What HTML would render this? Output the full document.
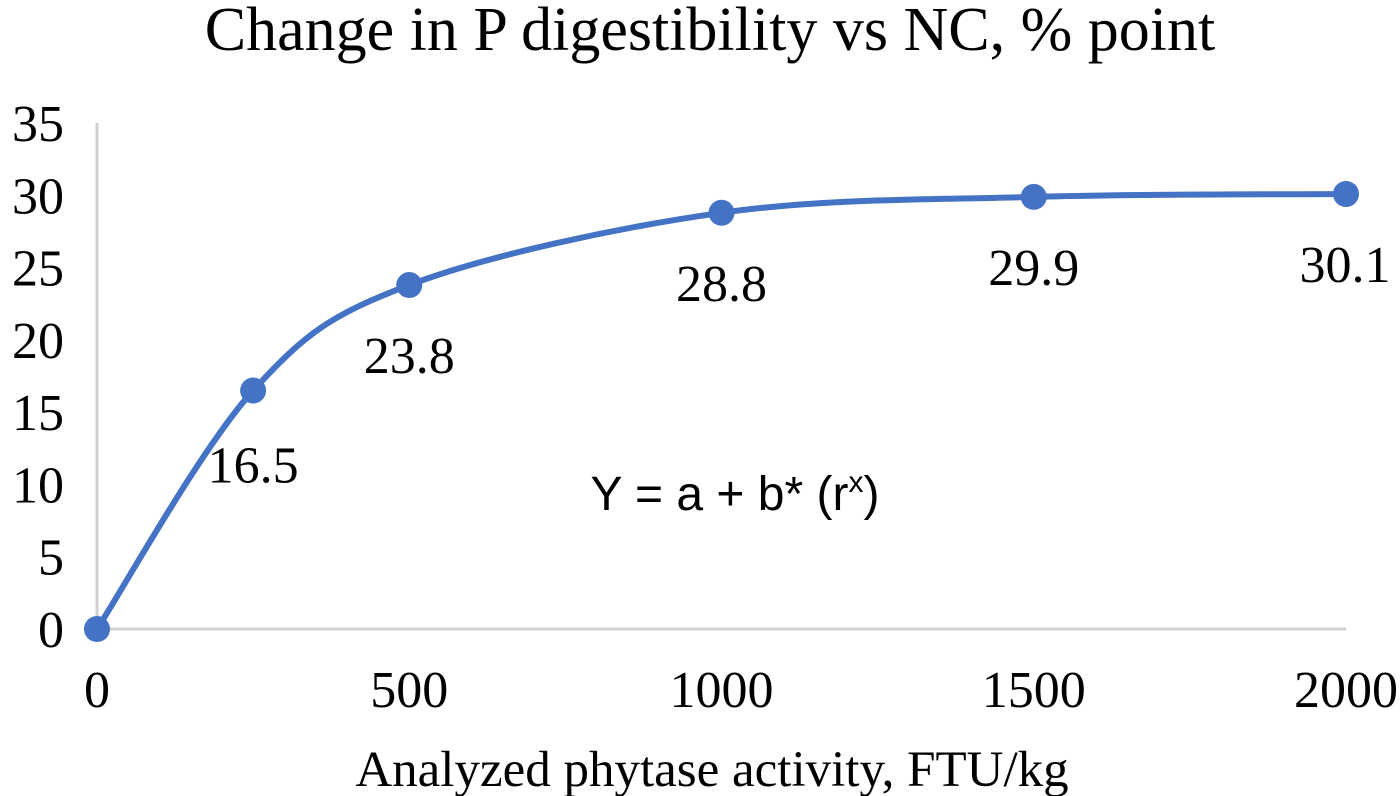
<!DOCTYPE html>
<html><head><meta charset="utf-8"><style>
html,body{margin:0;padding:0;background:#fff;width:1400px;height:796px;overflow:hidden}
svg{display:block}
.t{font-family:"Liberation Serif",serif;fill:#000}
</style></head><body>
<svg id="chart" width="1400" height="796" xmlns="http://www.w3.org/2000/svg">
<text class="t" x="710" y="50" font-size="62" text-anchor="middle">Change in P digestibility vs NC, % point</text>
<text class="t" x="712" y="786" font-size="51" text-anchor="middle">Analyzed phytase activity, FTU/kg</text>
<line x1="97" y1="123" x2="97" y2="629" stroke="#d0d0d0" stroke-width="3"/>
<line x1="97" y1="629" x2="1346" y2="629" stroke="#d0d0d0" stroke-width="3"/>
<text x="735" y="510" font-family="Liberation Sans,sans-serif" font-size="48" text-anchor="middle">Y = a + b* (r<tspan font-size="30" dy="-18">x</tspan><tspan dy="18">)</tspan></text>
<g id="ticks"></g><g id="series"></g>
</svg>
<script>
const xValues=[0,250,500,1000,1500,2000];
const yValues=[0,16.5,23.8,28.8,29.9,30.1];
const pointLabels=["","16.5","23.8","28.8","29.9","30.1"];
const xTicks=[0,500,1000,1500,2000];
const yTicks=[0,5,10,15,20,25,30,35];
const NS="http://www.w3.org/2000/svg";
const sx=v=>97+v*(1346-97)/2000;
const sy=v=>629-v*(629-194)/30.1;
const ticks=document.getElementById('ticks'),series=document.getElementById('series');
function mk(tag,at,parent){const e=document.createElementNS(NS,tag);for(const k in at)e.setAttribute(k,at[k]);parent.appendChild(e);return e;}
yTicks.forEach(v=>{const t=mk('text',{class:'t',x:64,y:sy(v)+18,'font-size':52,'text-anchor':'end'},ticks);


t.textContent=v;});
xTicks.forEach(v=>{const t=mk('text',{class:'t',x:sx(v),y:707,'font-size':52,'text-anchor':'middle'},ticks);


t.textContent=v;});
const P=xValues.map((x,i)=>[sx(x),sy(yValues[i])]);
let d=`M${P[0][0]},${P[0][1]}`;
for(let i=0;i<P.length-1;i++){const p0=P[Math.max(0,i-1)],p1=P[i],p2=P[i+1],p3=P[Math.min(P.length-1,i+2)];const k=1/6;
d+=` C${p1[0]+(p2[0]-p0[0])*k},${p1[1]+(p2[1]-p0[1])*k} ${p2[0]-(p3[0]-p1[0])*k},${p2[1]-(p3[1]-p1[1])*k} ${p2[0]},${p2[1]}`;}
const line=mk('path',{d:d,fill:'none',stroke:'#4472C4','stroke-width':6},series);


P.forEach((p,i)=>{const c=mk('circle',{cx:p[0],cy:p[1],r:13,fill:'#4472C4'},series);


if(pointLabels[i]){const t=mk('text',{class:'t',x:p[0]+(i==5?-1:0),y:p[1]+(i==1?92:88),'font-size':52,'text-anchor':'middle'},series);


t.textContent=pointLabels[i];}});
</script>
</body></html>
